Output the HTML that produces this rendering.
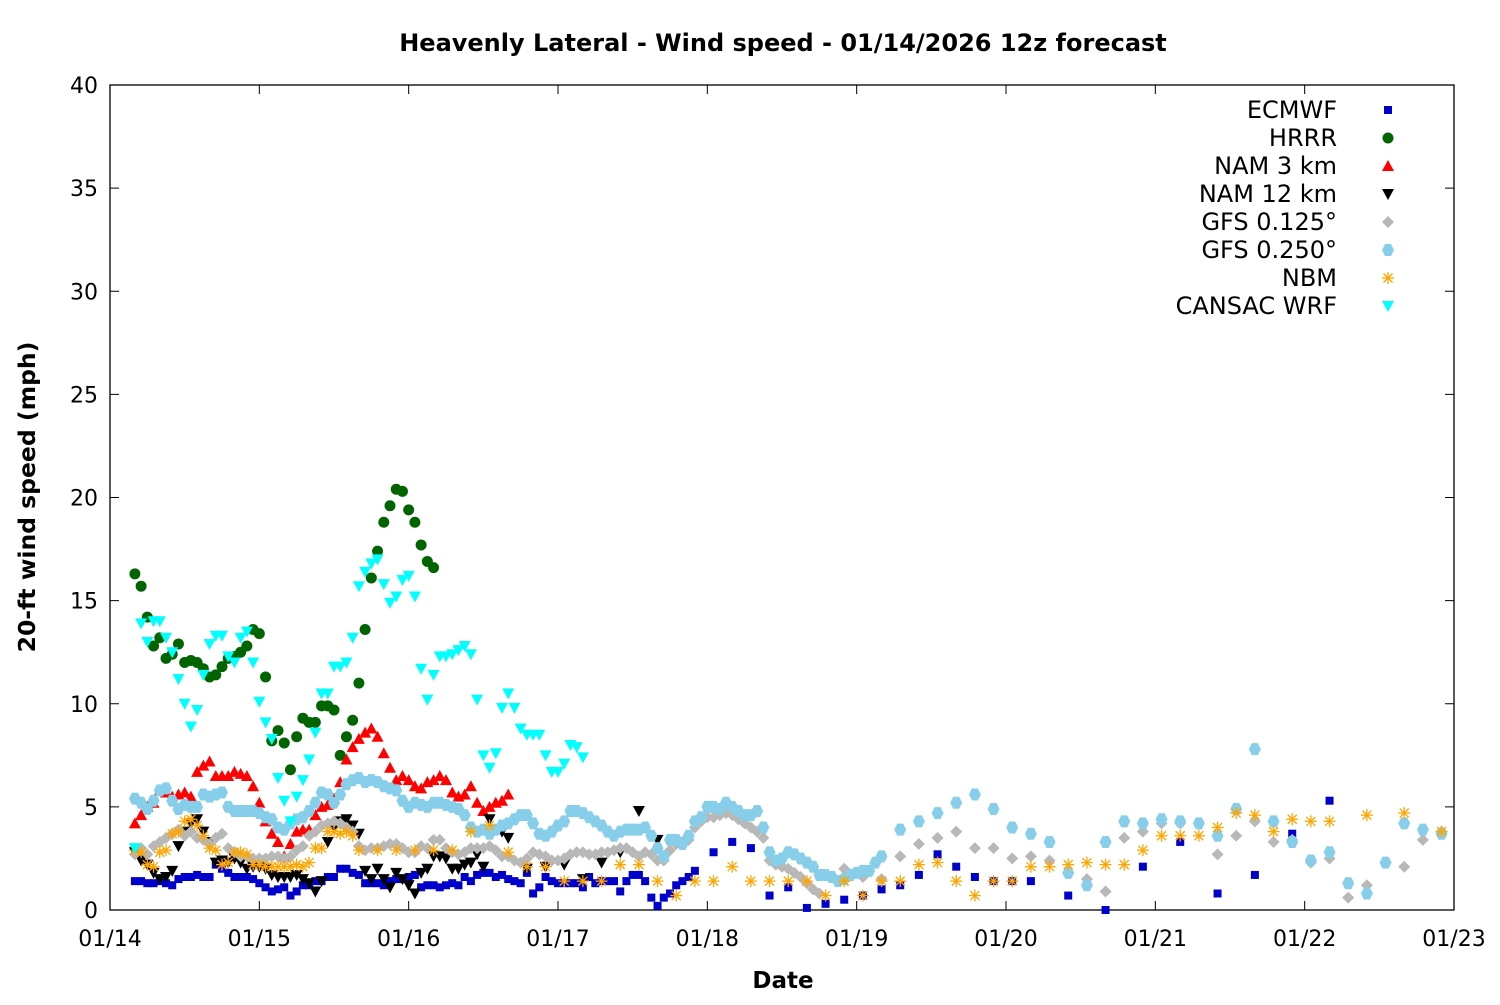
<!DOCTYPE html>
<html><head><meta charset="utf-8">
<style>
body{margin:0;background:#fff;}
svg text{font-family:"DejaVu Sans","Liberation Sans",sans-serif;}
</style></head>
<body>
<svg id="chart" width="1500" height="1000" xmlns="http://www.w3.org/2000/svg">
<rect width="1500" height="1000" fill="#fff"/>
<text x="783" y="51" text-anchor="middle" font-size="24" font-weight="bold">Heavenly Lateral - Wind speed - 01/14/2026 12z forecast</text>
<rect x="110" y="85" width="1344" height="825" fill="none" stroke="#000" stroke-width="1.3"/>
<g id="axes"></g>
<g id="marks"></g>
<g id="legend"></g>
<text transform="translate(35,497) rotate(-90)" text-anchor="middle" font-size="23.5" font-weight="bold">20-ft wind speed (mph)</text>
<text x="783" y="988" text-anchor="middle" font-size="23" font-weight="bold">Date</text>
</svg>
<script>
const xTickLabels=["01/14","01/15","01/16","01/17","01/18","01/19","01/20","01/21","01/22","01/23"];
const yTicks=[0,5,10,15,20,25,30,35,40];
const seriesNames=["ECMWF","HRRR","NAM 3 km","NAM 12 km","GFS 0.125°","GFS 0.250°","NBM","CANSAC WRF"];
// hourly values start at hour 4; 3-hourly blocks start at given hour
const ecmwfHourly=[1.4,1.4,1.3,1.3,1.4,1.3,1.2,1.5,1.6,1.6,1.7,1.6,1.6,2.2,2.0,1.8,1.6,1.6,1.6,1.5,1.3,1.1,0.9,1.0,1.1,0.7,0.9,1.2,1.2,1.4,1.4,1.6,1.6,2.0,2.0,1.8,1.7,1.3,1.3,1.3,1.2,1.4,1.5,1.5,1.6,1.7,1.1,1.2,1.2,1.1,1.2,1.3,1.2,1.6,1.4,1.7,1.8,1.8,1.6,1.7,1.5,1.4,1.3,1.8,0.8,1.1,1.6,1.4,1.3,1.3,1.3,1.3,1.1,1.6,1.3,1.4,1.4,1.4,0.9,1.4,1.7,1.7,1.4,0.6,0.2,0.6,0.8,1.2,1.4,1.6,1.9];
const ecmwf3hStart=97;
const ecmwf3h=[2.8,3.3,3.0,0.7,1.1,0.1,0.3,0.5,0.7,1.0,1.2,1.7,2.7,2.1,1.6,1.4,1.4,1.4,null,0.7,null,0.0,null,2.1,null,3.3,null,0.8,null,1.7,null,3.7,null,5.3];
const hrrrHourly=[16.3,15.7,14.2,12.8,13.2,12.2,12.4,12.9,12.0,12.1,12.0,11.7,11.3,11.4,11.8,12.2,12.3,12.5,12.8,13.6,13.4,11.3,8.2,8.7,8.1,6.8,8.4,9.3,9.1,9.1,9.9,9.9,9.7,7.5,8.4,9.2,11.0,13.6,16.1,17.4,18.8,19.6,20.4,20.3,19.4,18.8,17.7,16.9,16.6];
const nam3Hourly=[4.2,4.6,5.0,5.2,5.8,5.7,5.5,5.6,5.7,5.5,6.7,7.0,7.2,6.5,6.5,6.5,6.7,6.6,6.5,6.0,5.2,4.3,3.7,3.3,2.6,3.2,3.8,3.9,3.9,4.6,5.0,5.1,5.4,6.2,7.3,7.9,8.3,8.6,8.8,8.4,7.6,6.9,6.3,6.5,6.3,6.0,5.9,6.2,6.3,6.5,6.3,5.7,5.5,5.6,6.0,5.2,4.8,5.0,5.2,5.3,5.6];
const nam12Hourly=[2.8,2.4,2.2,1.8,1.5,1.6,1.9,3.1,3.8,4.2,4.4,3.8,3.3,2.3,2.4,2.3,2.5,2.3,2.0,2.1,2.1,2.0,1.7,1.6,1.6,1.6,1.7,1.5,1.3,0.9,1.4,3.3,4.0,4.3,4.4,4.1,3.7,1.9,1.5,2.0,1.5,1.1,1.8,1.5,1.2,0.8,1.8,2.0,2.6,2.6,2.5,2.0,2.0,2.2,2.3,2.7,2.1,4.4,3.9,3.8,3.5];
const nam123hStart=67;
const nam123h=[2.0,2.1,2.2,1.5,2.3,2.8,4.8,3.4];
const gfs125Hourly=[2.7,3.0,2.7,3.1,3.3,3.5,3.7,3.9,3.6,3.8,3.5,3.4,3.2,3.5,3.7,3.0,2.8,2.6,2.6,2.5,2.5,2.5,2.6,2.6,2.5,2.6,2.9,3.1,3.6,3.8,4.1,4.2,4.3,4.2,4.0,3.8,3.1,2.9,3.0,3.0,3.1,3.2,3.2,3.0,2.8,2.8,3.1,3.0,3.4,3.4,3.0,2.8,2.7,2.8,3.0,3.0,3.0,3.1,2.9,2.6,2.6,2.4,2.3,2.5,2.8,2.7,2.6,2.4,2.4,2.5,2.7,2.8,2.8,2.7,2.7,2.8,2.8,2.9,3.0,3.0,2.8,2.6,2.8,2.7,2.4,2.4,2.9,3.2,3.3,3.4,4.0,4.3,4.5,4.5,4.6,4.7,4.6,4.4,4.2,4.0,3.8,3.5,2.4,2.2,2.1,2.0,1.8,1.6,1.3,1.0,0.8];
const gfs1253hStart=118;
const gfs1253h=[2.0,1.6,1.5,2.6,3.2,3.5,3.8,3.0,3.0,2.5,2.6,2.4,1.8,1.5,0.9,3.5,3.8,4.2,4.2,4.2,2.7,3.6,4.3,3.3,3.4,2.3,2.5,0.6,1.2,2.3,2.1,3.4,3.8];
const gfs250Hourly=[5.4,5.2,4.9,5.3,5.8,5.9,5.3,4.9,5.1,5.0,5.0,5.6,5.5,5.6,5.7,5.0,4.8,4.8,4.8,4.8,4.7,4.5,4.4,4.0,3.9,4.2,4.4,4.5,4.8,5.2,5.7,5.6,5.2,5.6,6.1,6.3,6.4,6.2,6.3,6.2,6.0,5.9,5.8,5.3,5.0,5.2,5.1,5.0,5.2,5.2,5.1,5.0,4.9,4.6,4.0,3.8,3.9,3.7,3.9,4.1,4.2,4.4,4.6,4.6,4.2,3.7,3.6,3.8,4.1,4.3,4.8,4.8,4.7,4.5,4.3,4.1,3.8,3.6,3.8,3.9,3.9,3.9,4.0,3.6,3.0,2.6,3.4,3.4,3.2,3.6,4.3,4.5,5.0,5.0,4.9,5.2,5.0,4.8,4.6,4.6,4.8,4.0,2.8,2.4,2.5,2.8,2.7,2.5,2.3,2.1,1.7,1.7,1.6,1.4,1.5,1.7,1.8,1.9,1.9,2.3,2.6];
const gfs2503hStart=127;
const gfs2503h=[3.9,4.3,4.7,5.2,5.6,4.9,4.0,3.7,3.3,1.8,1.2,3.3,4.3,4.2,4.4,4.3,4.2,3.6,4.9,7.8,4.3,3.3,2.4,2.8,1.3,0.8,2.3,4.2,3.9,3.7];
const nbmHourly=[2.9,2.8,2.2,2.1,2.8,2.9,3.7,3.8,4.3,4.4,4.1,3.6,3.0,2.9,2.2,2.3,2.8,2.8,2.7,2.2,2.2,2.1,2.1,2.1,2.1,2.1,2.2,2.1,2.3,3.0,3.0,3.8,3.8,3.7,3.8,3.6];
const nbm3hStart=40;
const nbm3h=[2.9,2.9,2.9,2.9,2.9,2.9,3.8,4.1,2.8,2.1,2.1,1.4,1.4,1.4,2.2,2.2,1.4,0.7,1.4,1.4,2.1,1.4,1.4,1.4,1.4,0.7,1.4,0.7,1.4,1.4,2.2,2.3,1.4,0.7,1.4,1.4,2.1,2.1,2.2,2.3,2.2,2.2,2.9,3.6,3.6,3.6,4.0,4.7,4.6,3.8,4.4,4.3,4.3,null,4.6,null,4.7,null,3.8];
const cansacHourly=[3.0,13.9,13.0,14.0,14.0,13.2,12.5,11.2,10.0,8.9,9.7,11.4,12.9,13.3,13.3,12.3,12.0,13.2,13.5,12.0,10.1,9.1,8.3,6.4,5.3,4.3,5.5,6.3,7.3,8.6,10.5,10.5,11.8,11.8,12.0,13.2,15.7,16.4,16.8,17.0,15.8,14.9,15.2,16.0,16.2,15.2,11.7,10.2,11.4,12.3,12.3,12.4,12.6,12.8,12.4,10.2,7.5,6.9,7.6,9.8,10.5,9.8,8.8,8.5,8.5,8.5,7.5,6.7,6.7,7.1,8.0,7.9,7.4];
const hourlyStart=4;

const X0=110,X1=1454,Y0=910,Y1=85,TOTAL_H=216,YMAX=40;
function xScale(h){return X0+h*(X1-X0)/TOTAL_H;}
function yScale(v){return Y0-v*(Y0-Y1)/YMAX;}
const NS="http://www.w3.org/2000/svg";
function mk(tag,attrs,parent){const e=document.createElementNS(NS,tag);for(const k in attrs)e.setAttribute(k,attrs[k]);parent.appendChild(e);return e;}

const axes=document.getElementById('axes');
yTicks.forEach((t,i)=>{const y=yScale(t);
  mk('line',{x1:X0,x2:X0+9,y1:y,y2:y,stroke:'#000'},axes);
  mk('line',{x1:X1,x2:X1-9,y1:y,y2:y,stroke:'#000'},axes);
  const tx=mk('text',{x:X0-12,y:y+8,'text-anchor':'end','font-size':'22'},axes);tx.textContent=t;
  
  
});
xTickLabels.forEach((l,i)=>{const x=xScale(i*24);
  mk('line',{x1:x,x2:x,y1:Y0,y2:Y0-9,stroke:'#000'},axes);
  mk('line',{x1:x,x2:x,y1:Y1,y2:Y1+9,stroke:'#000'},axes);
  const tx=mk('text',{x:x,y:946,'text-anchor':'middle','font-size':'22'},axes);tx.textContent=l;
  
  
});

function marker(kind,x,y,parent){
  let e;
  if(kind==='sq')e=mk('rect',{x:x-4,y:y-4,width:8,height:8,fill:'#0000cc'},parent);
  else if(kind==='circ')e=mk('circle',{cx:x,cy:y,r:5.5,fill:'#006400'},parent);
  else if(kind==='up')e=mk('polygon',{points:`${x},${y-6} ${x-6},${y+5} ${x+6},${y+5}`,fill:'#ff0000'},parent);
  else if(kind==='dnb')e=mk('polygon',{points:`${x-6},${y-5} ${x+6},${y-5} ${x},${y+6}`,fill:'#000'},parent);
  else if(kind==='dnc')e=mk('polygon',{points:`${x-6},${y-5} ${x+6},${y-5} ${x},${y+6}`,fill:'#00ffff'},parent);
  else if(kind==='dia')e=mk('polygon',{points:`${x},${y-6} ${x+6},${y} ${x},${y+6} ${x-6},${y}`,fill:'#b8b8b8'},parent);
  else if(kind==='hex')e=mk('polygon',{points:`${x-3},${y-6} ${x+3},${y-6} ${x+6},${y} ${x+3},${y+6} ${x-3},${y+6} ${x-6},${y}`,fill:'#87ceeb'},parent);
  else if(kind==='star'){e=mk('g',{stroke:'#ffa500','stroke-width':1.3},parent);
    mk('line',{x1:x-6,x2:x+6,y1:y,y2:y},e);mk('line',{x1:x,x2:x,y1:y-6,y2:y+6},e);
    mk('line',{x1:x-4.5,x2:x+4.5,y1:y-4.5,y2:y+4.5},e);mk('line',{x1:x-4.5,x2:x+4.5,y1:y+4.5,y2:y-4.5},e);}
  return e;
}
const marks=document.getElementById('marks');
function plot(name,kind,blocks){
  const g=mk('g',{},marks);
  
  
  blocks.forEach(([start,step,vals])=>vals.forEach((v,i)=>{if(v==null)return;
    const m=marker(kind,xScale(start+i*step),yScale(v),g);
    
    
  }));
}
plot('ecmwf','sq',[[hourlyStart,1,ecmwfHourly],[ecmwf3hStart,3,ecmwf3h]]);
plot('hrrr','circ',[[hourlyStart,1,hrrrHourly]]);
plot('nam-3km','up',[[hourlyStart,1,nam3Hourly]]);
plot('nam-12km','dnb',[[hourlyStart,1,nam12Hourly],[nam123hStart,3,nam123h]]);
plot('gfs-0125','dia',[[hourlyStart,1,gfs125Hourly],[gfs1253hStart,3,gfs1253h]]);
plot('gfs-0250','hex',[[hourlyStart,1,gfs250Hourly],[gfs2503hStart,3,gfs2503h]]);
plot('nbm','star',[[hourlyStart,1,nbmHourly],[nbm3hStart,3,nbm3h]]);
plot('cansac-wrf','dnc',[[hourlyStart,1,cansacHourly]]);

const legend=document.getElementById('legend');
const kinds=['sq','circ','up','dnb','dia','hex','star','dnc'];
seriesNames.forEach((n,i)=>{const y=110+i*28;
  const g=mk('g',{},legend);
  
  
  const t=mk('text',{x:1337,y:y+8,'text-anchor':'end','font-size':'24'},g);t.textContent=n;
  marker(kinds[i],1388,y,g);
});
</script>
</body></html>
